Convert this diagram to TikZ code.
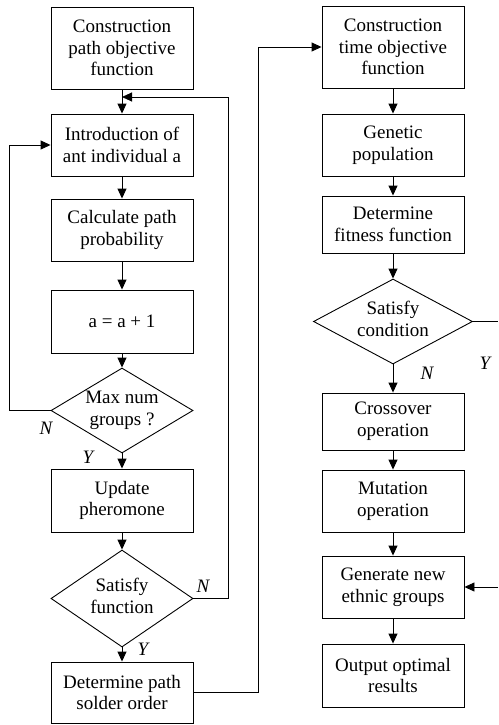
\documentclass[tikz,border=0pt]{standalone}
\usepackage{fontspec}
\setmainfont{Liberation Serif}
\usepackage{tikz}
\usetikzlibrary{arrows.meta,shapes.geometric}

% text of a diamond, kept out of its size
\newcommand{\dtext}[1]{\smash{\makebox[0pt]{\raisebox{-4pt}{\begin{tabular}{@{}c@{}}#1\end{tabular}}}}}

\tikzset{
	stepbox/.style={draw,line width=0.9pt,minimum width=142pt,align=center,inner sep=2pt,font=\fontsize{19}{21.7}\selectfont},
	choice/.style={draw,diamond,line width=0.9pt,minimum width=142pt,inner sep=0pt,font=\fontsize{19}{21.7}\selectfont},
	flow/.style={line width=0.9pt,-{Triangle[length=10pt,width=9pt]}},
	line/.style={line width=0.9pt},
	yn/.style={font=\fontsize{19}{21.7}\selectfont\itshape}
}

\begin{document}
\begin{tikzpicture}[x=1pt,y=-1pt]
	\useasboundingbox (0,0) rectangle (498,725);

	% ant colony part
	\node[stepbox,minimum height=82pt] (b1) at (122,48) {Construction\\path objective\\function};
	\node[stepbox,minimum height=62pt] (b2) at (122,145) {Introduction of\\ant individual a};
	\node[stepbox,minimum height=62pt] (b3) at (122,230) {Calculate path\\probability};
	\node[stepbox,minimum height=63pt] (b4) at (122,321.5) {a = a + 1};
	\node[choice,minimum height=85pt] (d1) at (122,410.5) {\dtext{Max num\\groups ?}};
	\node[stepbox,minimum height=63pt] (b5) at (122,500.5) {Update\\pheromone};
	\node[choice,minimum height=97pt] (d2) at (122,598.5) {\dtext{Satisfy\\function}};
	\node[stepbox,minimum height=61pt] (b6) at (122,692.5) {Determine path\\solder order};
	\coordinate (m1) at (122,97);

	\draw[flow] (b1) -- (b2);
	\draw[flow] (b2) -- (b3);
	\draw[flow] (b3) -- (b4);
	\draw[flow] (b4) -- (d1);
	\draw[flow] (d1) -- (b5);
	\draw[flow] (b5) -- (d2);
	\draw[flow] (d2) -- (b6);
	\draw[flow] (d1.west) -- ++(-41,0) |- (b2.west);
	\draw[flow] (d2.east) -- ++(35,0) |- (m1);

	\node[yn] (n1) at (46,428) {N};
	\node[yn] (y1) at (88,457) {Y};
	\node[yn] (n2) at (203,586) {N};
	\node[yn] (y2) at (143,649) {Y};

	% genetic part
	\node[stepbox,minimum height=82pt] (r1) at (393,47) {Construction\\time objective\\function};
	\node[stepbox,minimum height=62pt] (r2) at (393,145) {Genetic\\population};
	\node[stepbox,minimum height=57pt] (r3) at (393,224.5) {Determine\\fitness function};
	\node[choice,minimum width=159pt,minimum height=85pt] (rd) at (393,321.5) {\dtext{Satisfy\\condition}};
	\node[stepbox,minimum height=57pt] (r4) at (393,421.5) {Crossover\\operation};
	\node[stepbox,minimum height=62pt] (r5) at (393,501) {Mutation\\operation};
	\node[stepbox,minimum height=62pt] (r6) at (393,587) {Generate new\\ethnic groups};
	\node[stepbox,minimum height=63pt] (r7) at (393,675.5) {Output optimal\\results};
	\coordinate (ey) at (498,321.5);
	\coordinate (eg) at (498,587);

	\draw[flow] (b6.east) -- ++(65,0) |- (r1.west);
	\draw[flow] (r1) -- (r2);
	\draw[flow] (r2) -- (r3);
	\draw[flow] (r3) -- (rd);
	\draw[flow] (rd) -- (r4);
	\draw[flow] (r4) -- (r5);
	\draw[flow] (r5) -- (r6);
	\draw[flow] (r6) -- (r7);
	\draw[line] (rd.east) -- (ey);
	\draw[flow] (eg) -- (r6.east);

	\node[yn] (n3) at (427,373) {N};
	\node[yn] (y3) at (485,363) {Y};
\end{tikzpicture}
\end{document}
